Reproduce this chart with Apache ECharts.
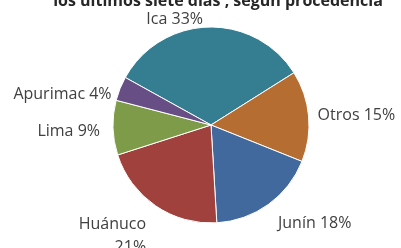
<!DOCTYPE html>
<html>
<head>
<meta charset="utf-8">
<script src="https://cdn.jsdelivr.net/npm/echarts@6/dist/echarts.min.js"></script>
<style>
  html, body { margin: 0; padding: 0; background: #fff; }
  #chart { width: 401px; height: 248px; }
</style>
</head>
<body>
<div id="chart"></div>
<script>
const titleText = "los últimos siete días , según procedencia";
const regions = ["Ica", "Otros", "Junín", "Huánuco", "Lima", "Apurimac"];
const shares = [33, 15, 18, 21, 9, 4];
const colors = ["#357e92", "#b56d32", "#42699d", "#a0413e", "#7e9b4a", "#674e84"];

const chart = echarts.init(document.getElementById("chart"));

// small nudges so labels sit where the original placed them
const labelNudge = {
  Otros: [-4, 0],
  "Junín": [0, 12],
  "Huánuco": [0, 23],
  Lima: [0, 3],
  Apurimac: [4, 9],
};

const pieData = regions.map((name, i) => ({
  name,
  value: shares[i],
  label: name === "Huánuco"
    ? { formatter: "{b}\n{d}%", align: "center", lineHeight: 23 }
    : undefined,
}));

chart.setOption({
  animation: false,
  color: colors,
  title: {
    text: titleText,
    left: 213,
    top: -12,
    textAlign: "center",
    textStyle: {
      fontFamily: "Open Sans",
      fontWeight: "bold",
      fontSize: 16,
      color: "#262626",
    },
  },
  series: [
    {
      type: "pie",
      center: [211, 125],
      radius: 98,
      startAngle: 151,
      clockwise: true,
      itemStyle: { borderColor: "#ffffff", borderWidth: 1 },
      label: {
        show: true,
        position: "outside",
        formatter: "{b} {d}%",
        fontFamily: "Open Sans",
        fontSize: 16,
        color: "#404040",
        overflow: "none",
      },
      labelLine: { show: false, length: 8, length2: 0 },
      labelLayout(params) {
        const nudge = labelNudge[regions[params.dataIndex]] || [0, 0];
        return { dx: nudge[0], dy: nudge[1] };
      },
      emphasis: { disabled: true },
      data: pieData,
    },
  ],
});
</script>
</body>
</html>
